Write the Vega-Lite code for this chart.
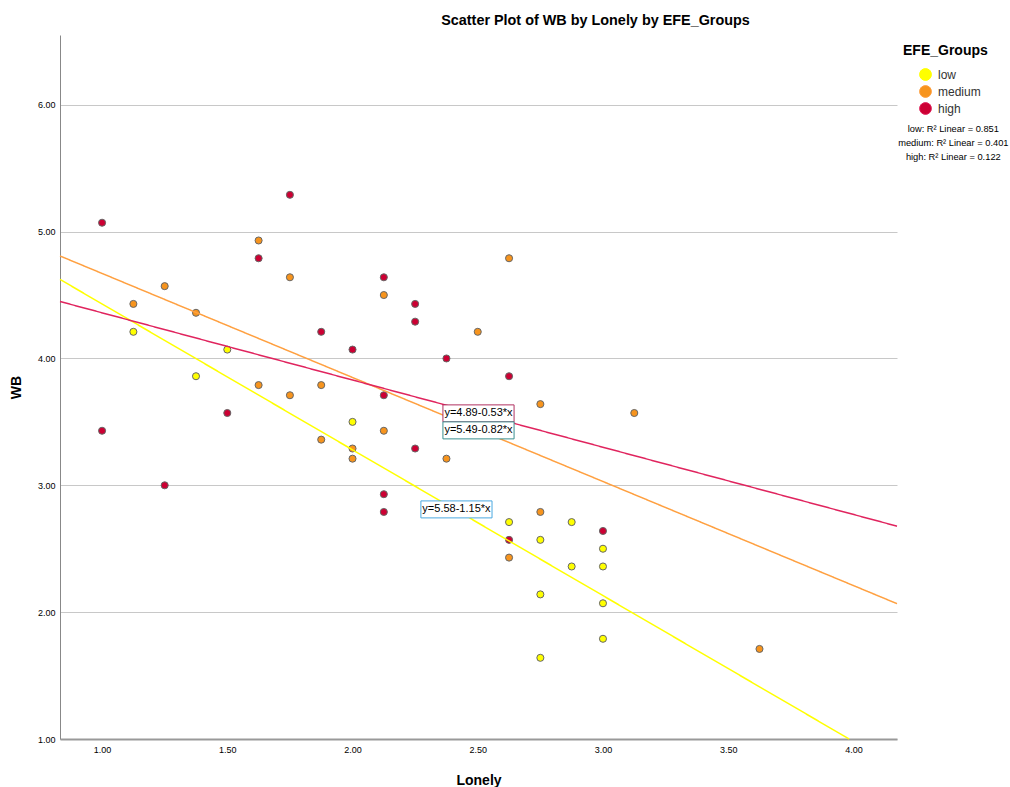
{
  "$schema": "https://vega.github.io/schema/vega-lite/v6.json",
  "width": 837,
  "height": 704,
  "autosize": {"type": "none"},
  "padding": {"left": 60, "top": 35, "right": 113, "bottom": 48},
  "background": "white",
  "config": {
    "font": "Liberation Sans",
    "view": {"stroke": null},
    "legend": {"padding": 0}
  },
  "title": {
    "text": "Scatter Plot of WB by Lonely by EFE_Groups",
    "fontSize": 14.4,
    "fontWeight": "bold",
    "font": "Liberation Sans",
    "anchor": "middle",
    "dx": 117,
    "offset": 7,
    "color": "#000"
  },
  "datasets": {
    "points": [
      {"Lonely": 1.000, "WB": 5.07, "EFE_Groups": "high"},
      {"Lonely": 1.000, "WB": 3.43, "EFE_Groups": "high"},
      {"Lonely": 1.250, "WB": 3.00, "EFE_Groups": "high"},
      {"Lonely": 1.500, "WB": 3.57, "EFE_Groups": "high"},
      {"Lonely": 1.625, "WB": 4.79, "EFE_Groups": "high"},
      {"Lonely": 1.750, "WB": 5.29, "EFE_Groups": "high"},
      {"Lonely": 1.875, "WB": 4.21, "EFE_Groups": "high"},
      {"Lonely": 2.000, "WB": 4.07, "EFE_Groups": "high"},
      {"Lonely": 2.125, "WB": 4.64, "EFE_Groups": "high"},
      {"Lonely": 2.125, "WB": 3.71, "EFE_Groups": "high"},
      {"Lonely": 2.125, "WB": 2.93, "EFE_Groups": "high"},
      {"Lonely": 2.125, "WB": 2.79, "EFE_Groups": "high"},
      {"Lonely": 2.250, "WB": 4.43, "EFE_Groups": "high"},
      {"Lonely": 2.250, "WB": 4.29, "EFE_Groups": "high"},
      {"Lonely": 2.250, "WB": 3.29, "EFE_Groups": "high"},
      {"Lonely": 2.375, "WB": 4.00, "EFE_Groups": "high"},
      {"Lonely": 2.625, "WB": 3.86, "EFE_Groups": "high"},
      {"Lonely": 2.625, "WB": 2.57, "EFE_Groups": "high"},
      {"Lonely": 3.000, "WB": 2.64, "EFE_Groups": "high"},
      {"Lonely": 1.125, "WB": 4.43, "EFE_Groups": "medium"},
      {"Lonely": 1.250, "WB": 4.57, "EFE_Groups": "medium"},
      {"Lonely": 1.375, "WB": 4.36, "EFE_Groups": "medium"},
      {"Lonely": 1.625, "WB": 4.93, "EFE_Groups": "medium"},
      {"Lonely": 1.625, "WB": 3.79, "EFE_Groups": "medium"},
      {"Lonely": 1.750, "WB": 4.64, "EFE_Groups": "medium"},
      {"Lonely": 1.750, "WB": 3.71, "EFE_Groups": "medium"},
      {"Lonely": 1.875, "WB": 3.79, "EFE_Groups": "medium"},
      {"Lonely": 1.875, "WB": 3.36, "EFE_Groups": "medium"},
      {"Lonely": 2.000, "WB": 3.29, "EFE_Groups": "medium"},
      {"Lonely": 2.000, "WB": 3.21, "EFE_Groups": "medium"},
      {"Lonely": 2.125, "WB": 4.50, "EFE_Groups": "medium"},
      {"Lonely": 2.125, "WB": 3.43, "EFE_Groups": "medium"},
      {"Lonely": 2.375, "WB": 3.21, "EFE_Groups": "medium"},
      {"Lonely": 2.500, "WB": 4.21, "EFE_Groups": "medium"},
      {"Lonely": 2.625, "WB": 4.79, "EFE_Groups": "medium"},
      {"Lonely": 2.625, "WB": 2.43, "EFE_Groups": "medium"},
      {"Lonely": 2.750, "WB": 3.64, "EFE_Groups": "medium"},
      {"Lonely": 2.750, "WB": 2.79, "EFE_Groups": "medium"},
      {"Lonely": 3.125, "WB": 3.57, "EFE_Groups": "medium"},
      {"Lonely": 3.625, "WB": 1.71, "EFE_Groups": "medium"},
      {"Lonely": 1.125, "WB": 4.21, "EFE_Groups": "low"},
      {"Lonely": 1.375, "WB": 3.86, "EFE_Groups": "low"},
      {"Lonely": 1.500, "WB": 4.07, "EFE_Groups": "low"},
      {"Lonely": 2.000, "WB": 3.50, "EFE_Groups": "low"},
      {"Lonely": 2.625, "WB": 2.71, "EFE_Groups": "low"},
      {"Lonely": 2.750, "WB": 2.57, "EFE_Groups": "low"},
      {"Lonely": 2.750, "WB": 2.14, "EFE_Groups": "low"},
      {"Lonely": 2.750, "WB": 1.64, "EFE_Groups": "low"},
      {"Lonely": 2.875, "WB": 2.71, "EFE_Groups": "low"},
      {"Lonely": 2.875, "WB": 2.36, "EFE_Groups": "low"},
      {"Lonely": 3.000, "WB": 2.50, "EFE_Groups": "low"},
      {"Lonely": 3.000, "WB": 2.36, "EFE_Groups": "low"},
      {"Lonely": 3.000, "WB": 2.07, "EFE_Groups": "low"},
      {"Lonely": 3.000, "WB": 1.79, "EFE_Groups": "low"}
    ],
    "fits": [
      {"Lonely": 0.832, "WB": 4.623, "EFE_Groups": "low", "r2": "low: R² Linear = 0.851"},
      {"Lonely": 3.983, "WB": 1.0, "EFE_Groups": "low", "r2": "low: R² Linear = 0.851"},
      {"Lonely": 0.832, "WB": 4.808, "EFE_Groups": "medium", "r2": "medium: R² Linear = 0.401"},
      {"Lonely": 4.174, "WB": 2.067, "EFE_Groups": "medium", "r2": "medium: R² Linear = 0.401"},
      {"Lonely": 0.832, "WB": 4.449, "EFE_Groups": "high", "r2": "high: R² Linear = 0.122"},
      {"Lonely": 4.174, "WB": 2.678, "EFE_Groups": "high", "r2": "high: R² Linear = 0.122"}
    ],
    "labels": [
      {"EFE_Groups": "high", "label": "y=4.89-0.53*x", "x1": 2.361, "x2": 2.645, "y1": 3.634, "y2": 3.50, "xc": 2.503, "yc": 3.567},
      {"EFE_Groups": "medium", "label": "y=5.49-0.82*x", "x1": 2.361, "x2": 2.645, "y1": 3.50, "y2": 3.366, "xc": 2.503, "yc": 3.433},
      {"EFE_Groups": "low", "label": "y=5.58-1.15*x", "x1": 2.273, "x2": 2.557, "y1": 2.877, "y2": 2.743, "xc": 2.415, "yc": 2.81}
    ]
  },
  "layer": [
    {
      "data": {"name": "points"},
      "mark": {"type": "point", "shape": "circle", "filled": true, "size": 50, "stroke": "#666666", "strokeWidth": 1, "opacity": 1},
      "encoding": {
        "x": {
          "field": "Lonely", "type": "quantitative",
          "scale": {"domain": [0.832, 4.174], "nice": false, "zero": false},
          "axis": {
            "title": "Lonely", "values": [1, 1.5, 2, 2.5, 3, 3.5, 4], "format": ".2f",
            "grid": false, "ticks": false, "domainColor": "#999999", "domainWidth": 2,
            "labelFontSize": 9, "labelColor": "#000", "labelPadding": 6,
            "titleFontSize": 14, "titleFontWeight": "bold", "titleColor": "#000", "titlePadding": 19
          }
        },
        "y": {
          "field": "WB", "type": "quantitative",
          "scale": {"domain": [1, 6.55], "nice": false, "zero": false},
          "axis": {
            "title": "WB", "values": [1, 2, 3, 4, 5, 6], "format": ".2f",
            "grid": true, "gridColor": "#c8c8c8", "gridWidth": 1, "ticks": false,
            "domainColor": "#888888", "domainWidth": 1,
            "labelFontSize": 9, "labelColor": "#000", "labelPadding": 5,
            "titleFontSize": 14, "titleFontWeight": "bold", "titleColor": "#000", "titlePadding": 14
          }
        },
        "fill": {
          "field": "EFE_Groups", "type": "nominal",
          "scale": {"domain": ["low", "medium", "high"], "range": ["#ffff00", "#f7941d", "#cc0033"]},
          "legend": {
            "title": "EFE_Groups", "orient": "none", "legendX": 843, "legendY": 9,
            "titleFontSize": 14, "titleFontWeight": "bold", "titleColor": "#000", "titlePadding": 10,
            "symbolType": "circle", "symbolSize": 140, "symbolStrokeColor": "#555555", "symbolStrokeWidth": 1,
            "symbolOffset": 16, "labelOffset": 6, "labelFontSize": 12, "labelColor": "#333", "rowPadding": 0
          }
        }
      }
    },
    {
      "data": {"name": "fits"},
      "mark": {"type": "line", "strokeWidth": 1.5},
      "encoding": {
        "x": {"field": "Lonely", "type": "quantitative"},
        "y": {"field": "WB", "type": "quantitative"},
        "stroke": {
          "field": "EFE_Groups", "type": "nominal",
          "scale": {"domain": ["low", "medium", "high"], "range": ["#ffff00", "#ffa040", "#e0245e"]},
          "legend": null
        },
        "strokeDash": {
          "field": "r2", "type": "nominal",
          "scale": {"domain": ["low: R² Linear = 0.851", "medium: R² Linear = 0.401", "high: R² Linear = 0.122"], "range": [[1, 0], [1, 0], [1, 0]]},
          "legend": {
            "title": null, "orient": "none", "legendX": 884, "legendY": 89.5,
            "symbolSize": 0, "symbolOpacity": 0, "symbolStrokeWidth": 0,
            "labelAlign": "center", "labelOffset": 0, "labelFontSize": 9.3, "labelColor": "#000", "rowPadding": 4
          }
        }
      }
    },
    {
      "data": {"name": "labels"},
      "transform": [{"filter": "datum.EFE_Groups === 'high'"}],
      "mark": {"type": "rect", "fill": "white", "stroke": "#b03060", "strokeWidth": 1},
      "encoding": {
        "x": {"field": "x1", "type": "quantitative"},
        "x2": {"field": "x2"},
        "y": {"field": "y1", "type": "quantitative"},
        "y2": {"field": "y2"}
      }
    },
    {
      "data": {"name": "labels"},
      "transform": [{"filter": "datum.EFE_Groups === 'medium'"}],
      "mark": {"type": "rect", "fill": "white", "stroke": "#3a8f8f", "strokeWidth": 1},
      "encoding": {
        "x": {"field": "x1", "type": "quantitative"},
        "x2": {"field": "x2"},
        "y": {"field": "y1", "type": "quantitative"},
        "y2": {"field": "y2"}
      }
    },
    {
      "data": {"name": "labels"},
      "transform": [{"filter": "datum.EFE_Groups === 'low'"}],
      "mark": {"type": "rect", "fill": "white", "stroke": "#4aa8e0", "strokeWidth": 1},
      "encoding": {
        "x": {"field": "x1", "type": "quantitative"},
        "x2": {"field": "x2"},
        "y": {"field": "y1", "type": "quantitative"},
        "y2": {"field": "y2"}
      }
    },
    {
      "data": {"name": "labels"},
      "mark": {"type": "text", "fontSize": 11, "color": "#000", "align": "center", "baseline": "middle"},
      "encoding": {
        "x": {"field": "xc", "type": "quantitative"},
        "y": {"field": "yc", "type": "quantitative"},
        "text": {"field": "label"}
      }
    }
  ]
}
